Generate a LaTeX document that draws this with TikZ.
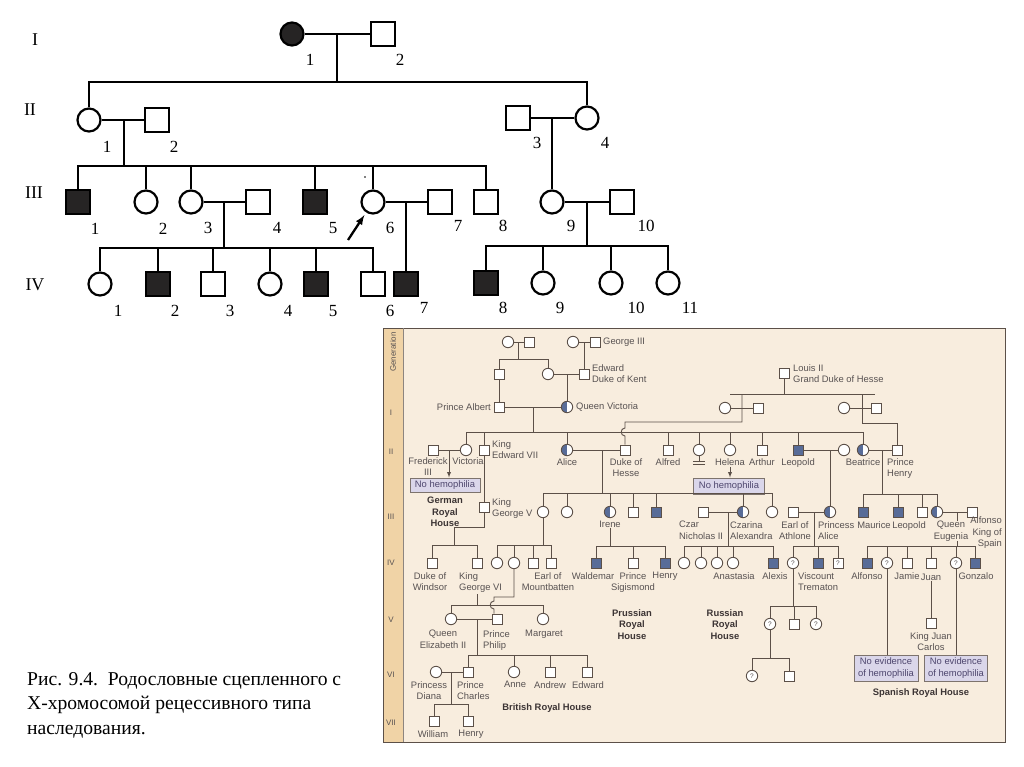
\documentclass[tikz,border=0pt]{standalone}
\usepackage{fontspec}
\setmainfont{Liberation Serif}
\newfontfamily\rfont{Liberation Sans}
\usepackage{tikz}
\usetikzlibrary{calc}
\usetikzlibrary{arrows}
\usetikzlibrary{positioning}

\definecolor{pdark}{RGB}{38,36,36}
\definecolor{panelbg}{RGB}{248,237,222}
\definecolor{genbar}{RGB}{240,211,166}
\definecolor{rline}{RGB}{92,80,72}
\definecolor{rtext}{RGB}{88,82,82}
\definecolor{rhtext}{RGB}{60,52,52}
\definecolor{rfill}{RGB}{88,108,152}
\definecolor{boxfill}{RGB}{218,214,234}
\definecolor{boxtext}{RGB}{78,70,110}

\tikzset{
 fem/.style={circle, draw=black, line width=2.2pt, minimum size=23pt, inner sep=0pt, fill=white},
 mal/.style={rectangle, draw=black, line width=2.2pt, minimum size=23.5pt, inner sep=0pt, fill=white},
 aff/.style={fill=pdark},
 lnk/.style={draw=black, line width=2.3pt},
 num/.style={font=\fontsize{17}{17}\selectfont, inner sep=0pt},
 gen/.style={font=\fontsize{18}{18}\selectfont, inner sep=0pt},
 rfem/.style={circle, draw=rline, line width=0.9pt, minimum size=11.4pt, inner sep=0pt, fill=white},
 rmal/.style={rectangle, draw=rline, line width=0.9pt, minimum size=9.9pt, inner sep=0pt, fill=white},
 raff/.style={fill=rfill},
 rcar/.style={path picture={\fill[rfill] (path picture bounding box.south west) rectangle (path picture bounding box.north);}},
 rq/.style={font=\rfont\fontsize{6.5}{6.5}\selectfont, text=rtext},
 rl/.style={draw=rline, line width=0.9pt},
 rtx/.style={font=\rfont\fontsize{9.4}{11.6}\selectfont, text=rtext, inner sep=0pt, align=center},
 rhouse/.style={font=\rfont\bfseries\fontsize{9.4}{11.6}\selectfont, text=rhtext, inner sep=0pt, align=center},
 nobox/.style={rectangle, draw=rline!80, line width=1pt, fill=boxfill, font=\rfont\fontsize{9.4}{11.6}\selectfont, text=boxtext, inner sep=0pt, align=center},
 rgen/.style={font=\rfont\fontsize{8}{8}\selectfont, text=rtext, inner sep=0pt}
}

\begin{document}
\begin{tikzpicture}[x=1pt, y=-1pt]
\useasboundingbox (0,0) rectangle (1024,767);
\fill[white] (0,0) rectangle (1024,767);

% ---------- upper pedigree ----------
\node [gen] (gl1) at (35,40) {I};
\node [gen] (gl2) at (30,110) {II};
\node [gen] (gl3) at (34,193) {III};
\node [gen] (gl4) at (35,285) {IV};

\node [fem, aff] (f11) at (292,34) {};
\node [mal] (m12) at (383,34) {};
\node [num] (n11) at (310,60) {1};
\node [num] (n12) at (400,60) {2};

\node [fem] (f21) at (89,120) {};
\node [mal] (m22) at (157,120) {};
\node [mal] (m23) at (518,118) {};
\node [fem] (f24) at (587,118) {};
\node [num] (n21) at (107,147) {1};
\node [num] (n22) at (174,147) {2};
\node [num] (n23) at (537,143) {3};
\node [num] (n24) at (605,143) {4};

\node [mal, aff] (m31) at (78,202) {};
\node [fem] (f32) at (146,202) {};
\node [fem] (f33) at (191,202) {};
\node [mal] (m34) at (258,202) {};
\node [mal, aff] (m35) at (315,202) {};
\node [fem] (f36) at (373,202) {};
\node [mal] (m37) at (440,202) {};
\node [mal] (m38) at (486,202) {};
\node [fem] (f39) at (552,202) {};
\node [mal] (m310) at (622,202) {};
\node [num] (n31) at (95,229) {1};
\node [num] (n32) at (163,229) {2};
\node [num] (n33) at (208,228) {3};
\node [num] (n34) at (277,228) {4};
\node [num] (n35) at (333,228) {5};
\node [num] (n36) at (390,228) {6};
\node [num] (n37) at (458,226) {7};
\node [num] (n38) at (503,226) {8};
\node [num] (n39) at (571,226) {9};
\node [num] (n310) at (646,226) {10};

\node [fem] (f41) at (100,284) {};
\node [mal, aff] (m42) at (158,284) {};
\node [mal] (m43) at (213,284) {};
\node [fem] (f44) at (270,284) {};
\node [mal, aff] (m45) at (316,284) {};
\node [mal] (m46) at (373,284) {};
\node [mal, aff] (m47) at (406,284) {};
\node [mal, aff] (m48) at (486,283) {};
\node [fem] (f49) at (543,283) {};
\node [fem] (f410) at (611,283) {};
\node [fem] (f411) at (668,283) {};
\node [num] (n41) at (118,311) {1};
\node [num] (n42) at (175,311) {2};
\node [num] (n43) at (230,311) {3};
\node [num] (n44) at (288,311) {4};
\node [num] (n45) at (333,311) {5};
\node [num] (n46) at (390,311) {6};
\node [num] (n47) at (424,308) {7};
\node [num] (n48) at (503,308) {8};
\node [num] (n49) at (560,308) {9};
\node [num] (n410) at (636,308) {10};
\node [num] (n411) at (690,308) {11};

\coordinate (j1) at (337,34);
\coordinate (s1) at (337,82);
\coordinate (j2) at (124,120);
\coordinate (s2) at (124,166);
\coordinate (j3) at (552,118);
\coordinate (j4) at (224,202);
\coordinate (s4) at (224,248);
\coordinate (j5) at (406,202);
\coordinate (j6) at (587,202);
\coordinate (s6) at (587,246);
\coordinate (pb) at (348,240);

\draw [lnk] (f11) -- (m12);
\draw [lnk] (j1) -- (s1);
\draw [lnk] (s1) -| (f21);
\draw [lnk] (s1) -| (f24);
\draw [lnk] (f21) -- (m22);
\draw [lnk] (j2) -- (s2);
\foreach \c in {m31,f32,f33,m35,f36,m38}
  \draw [lnk] (s2) -| (\c);
\draw [lnk] (m23) -- (f24);
\draw [lnk] (j3) -- (f39);
\draw [lnk] (f33) -- (m34);
\draw [lnk] (j4) -- (s4);
\foreach \c in {f41,m42,m43,f44,m45,m46}
  \draw [lnk] (s4) -| (\c);
\draw [lnk] (f36) -- (m37);
\draw [lnk] (j5) -- (m47);
\draw [lnk] (f39) -- (m310);
\draw [lnk] (j6) -- (s6);
\foreach \c in {m48,f49,f410,f411}
  \draw [lnk] (s6) -| (\c);
\draw [lnk, -latex, shorten >=3pt] (pb) -- (f36);
\fill (365,177) circle (0.9pt);

% ---------- royal pedigree panel ----------
\fill [panelbg] (383,328) rectangle (1005,742);
\fill [genbar] (383,328) rectangle (403,742);
\draw [rline, line width=1pt] (383,328) rectangle (1005,742);
\draw [rline!70, line width=0.8pt] (403,328) -- (403,742);

\node [rgen, rotate=90] (gtit) at (393,352) {Generation};
\node [rgen] (rg1) at (391,413) {I};
\node [rgen] (rg2) at (391,452) {II};
\node [rgen] (rg3) at (391,517) {III};
\node [rgen] (rg4) at (391,563) {IV};
\node [rgen] (rg5) at (391,620) {V};
\node [rgen] (rg6) at (391,675) {VI};
\node [rgen] (rg7) at (391,723) {VII};

% generation 0
\node [rfem] (gm1) at (508,342) {};
\node [rmal] (gf1) at (529,342) {};
\node [rfem] (gm2) at (573,342) {};
\node [rmal] (geo) at (595,342) {};
\node [rtx, anchor=west] (tgeo) at (603,342) {George III};
\node [rmal] (alfa) at (499,374) {};
\node [rfem] (vmo) at (548,374) {};
\node [rmal] (edk) at (584,374) {};
\node [rtx, anchor=west, align=left] (tedk) at (592,373.5) {Edward\\Duke of Kent};
\node [rmal] (alb) at (499,407) {};
\node [rtx, anchor=east] (talb) at (491,407) {Prince Albert};
\node [rfem, rcar] (qv) at (567,407) {};
\node [rtx, anchor=west] (tqv) at (576,407) {Queen Victoria};

\coordinate (ja) at (518,342);
\coordinate (sa) at (518,359);
\coordinate (jb) at (584,342);
\coordinate (jc) at (567,374);
\coordinate (jd) at (533,407);
\coordinate (sd) at (533,432);
\draw [rl] (gm1) -- (gf1);
\draw [rl] (ja) -- (sa);
\draw [rl] (sa) -| (alfa);
\draw [rl] (sa) -| (vmo);
\draw [rl] (gm2) -- (geo);
\draw [rl] (jb) -- (edk);
\draw [rl] (vmo) -- (edk);
\draw [rl] (jc) -- (qv);
\draw [rl] (alfa) -- (alb);
\draw [rl] (alb) -- (qv);
\draw [rl] (jd) -- (sd);

% Louis II
\node [rmal] (lou) at (784,373) {};
\node [rtx, anchor=west, align=left] (tlou) at (793,373.5) {Louis II\\Grand Duke of Hesse};
\node [rfem] (lw1) at (725,408) {};
\node [rmal] (lh1) at (758,408) {};
\node [rfem] (lw2) at (844,408) {};
\node [rmal] (lh2) at (876,408) {};

% generation II
\node [rmal] (fre) at (433,450) {};
\node [rfem] (vic) at (466,450) {};
\node [rmal] (ed7) at (484,450) {};
\node [rfem, rcar] (ali) at (567,450) {};
\node [rmal] (hes) at (625,450) {};
\node [rmal] (alf) at (668,450) {};
\node [rfem] (dau) at (699,450) {};
\node [rfem] (hel) at (730,450) {};
\node [rmal] (art) at (762,450) {};
\node [rmal, raff] (leo) at (798,450) {};
\node [rfem] (leow) at (844,450) {};
\node [rfem, rcar] (bea) at (863,450) {};
\node [rmal] (hen) at (897,450) {};

\node [rtx, anchor=north] (tfre) at (428,457) {Frederick\\III};
\node [rtx, anchor=north] (tvic) at (468,457) {Victoria};
\node [rtx, anchor=north west, align=left] (ted7) at (492,440) {King\\Edward VII};
\node [rtx, anchor=north] (tali) at (567,458) {Alice};
\node [rtx, anchor=north] (thes) at (626,458) {Duke of\\Hesse};
\node [rtx, anchor=north] (talf) at (668,458) {Alfred};
\node [rtx, anchor=north] (thel) at (730,458) {Helena};
\node [rtx, anchor=north] (tart) at (762,458) {Arthur};
\node [rtx, anchor=north] (tleo) at (798,458) {Leopold};
\node [rtx, anchor=north] (tbea) at (863,458) {Beatrice};
\node [rtx, anchor=north west, align=left] (then) at (887,458) {Prince\\Henry};

\node [nobox, minimum width=70pt, minimum height=14pt] (nh1) at (445,485) {No hemophilia};
\node [nobox, minimum width=71pt, minimum height=16pt] (nh2) at (729,486) {No hemophilia};

\coordinate (sl) at (784,394);
\coordinate (sl0) at (730,394);
\coordinate (sl1) at (875,394);
\coordinate (hl0) at (742,394);
\coordinate (hl1) at (742,422);
\coordinate (hh0) at (625,422);
\coordinate (hop0) at (625,428);
\coordinate (hop1) at (625,436);
\coordinate (hr0) at (862,394);
\coordinate (hr1) at (862,423);
\draw [rl] (lou) -- (sl);
\draw [rl] (sl0) -- (sl1);
\draw [rl] (lw1) -- (lh1);
\draw [rl] (lw2) -- (lh2);
\draw [rl] (hl0) -- (hl1) -- (hh0) -- (hop0) .. controls +(-5,0) and +(-5,0) .. (hop1) -- (hes);
\draw [rl] (hr0) -- (hr1) -| (hen);

\foreach \c in {vic,ed7,ali,alf,dau,hel,art,leo,bea}
  \draw [rl] (sd) -| (\c);

\coordinate (jfr) at (449,450);
\coordinate (dau0) at (699,461);
\draw [rl] (fre) -- (vic);
\draw [rl, -latex] (jfr) -- (jfr |- nh1.north);
\draw [rl, -latex, shorten <=2pt] (thel.south) -- (thel.south |- nh2.north);
\draw [rl] (dau) -- (dau0);
\draw [rl] ($(dau0)+(-6,0)$) -- ($(dau0)+(6,0)$);
\draw [rl] ($(dau0)+(-6,3)$) -- ($(dau0)+(6,3)$);

% generation III
\node [rmal] (ge5) at (484,507) {};
\node [rtx, anchor=north west, align=left] (tge5) at (492,498) {King\\George V};
\node [rfem] (vb) at (543,512) {};
\node [rfem] (ela) at (567,512) {};
\node [rfem, rcar] (ire) at (610,512) {};
\node [rmal] (ern) at (633,512) {};
\node [rmal, raff] (fri) at (656,512) {};
\node [rmal] (nic) at (703,512) {};
\node [rfem, rcar] (alx) at (743,512) {};
\node [rfem] (ala) at (772,512) {};
\node [rmal] (ath) at (793,512) {};
\node [rfem, rcar] (pal) at (830,512) {};
\node [rmal, raff] (mau) at (863,512) {};
\node [rmal, raff] (leo2) at (898,512) {};
\node [rmal] (don) at (922,512) {};
\node [rfem, rcar] (eug) at (937,512) {};
\node [rmal] (alk) at (972,512) {};

\coordinate (jal) at (602,450);
\coordinate (sal) at (602,493);
\coordinate (jle) at (830,450);
\coordinate (jbe) at (882,450);
\coordinate (sbe) at (882,494);
\coordinate (jeu) at (957,512);
\coordinate (seu) at (957,546);
\draw [rl] (ed7) -- (ge5);
\draw [rl] (ali) -- (hes);
\draw [rl] (jal) -- (sal);
\foreach \c in {vb,ela,ire,ern,fri,alx,ala}
  \draw [rl] (sal) -| (\c);
\draw [rl] (leo) -- (leow);
\draw [rl] (jle) -- (pal);
\draw [rl] (bea) -- (hen);
\draw [rl] (jbe) -- (sbe);
\foreach \c in {mau,leo2,don,eug}
  \draw [rl] (sbe) -| (\c);
\draw [rl] (eug) -- (alk);
\draw [rl] (jeu) -- (seu);

\node [rtx, anchor=north] (tire) at (610,521) {Irene};
\node [rtx, anchor=north west, align=left] (tnic) at (679,521) {Czar\\Nicholas II};
\node [rtx, anchor=north west, align=left] (talx) at (730,521) {Czarina\\Alexandra};
\node [rtx, anchor=north] (tath) at (795,521) {Earl of\\Athlone};
\node [rtx, anchor=north west, align=left] (tpal) at (818,521) {Princess\\Alice};
\node [rtx, anchor=north] (tmau) at (874,521) {Maurice};
\node [rtx, anchor=north] (tleo2) at (909,521) {Leopold};
\node [rtx, anchor=north, fill=panelbg] (teug) at (951,521) {Queen\\Eugenia};
\node [rtx, anchor=north east, align=right] (talk) at (1002,516.5) {Alfonso\\King of\\Spain};

\node [rhouse, anchor=north] (hger) at (445,497) {German\\Royal\\House};

% generation IV
\node [rmal] (dwi) at (432,563) {};
\node [rmal] (gv6) at (477,563) {};
\node [rfem] (mb1) at (497,563) {};
\node [rfem] (mb2) at (514,563) {};
\node [rmal] (mb3) at (533,563) {};
\node [rmal] (mb4) at (551,563) {};
\node [rmal, raff] (wal) at (596,563) {};
\node [rmal] (sig) at (633,563) {};
\node [rmal, raff] (hry) at (665,563) {};
\node [rfem] (od1) at (684,563) {};
\node [rfem] (od2) at (701,563) {};
\node [rfem] (od3) at (717,563) {};
\node [rfem] (ana) at (733,563) {};
\node [rmal, raff] (alz) at (773,563) {};
\node [rfem, rq] (rq1) at (793,563) {?};
\node [rmal, raff] (tre) at (818,563) {};
\node [rmal, rq] (rq2) at (838,563) {?};
\node [rmal, raff] (alf2) at (867,563) {};
\node [rfem, rq] (sq1) at (887,563) {?};
\node [rmal] (jam) at (907,563) {};
\node [rmal] (jua) at (931,563) {};
\node [rfem, rq] (sq2) at (956,563) {?};
\node [rmal, raff] (gon) at (975,563) {};

\coordinate (jg0) at (484,527);
\coordinate (jg1) at (454,527);
\coordinate (sg) at (454,545);
\coordinate (svb) at (543,545);
\coordinate (sir) at (610,546);
\coordinate (jni) at (728,512);
\coordinate (sni) at (728,546);
\coordinate (jat) at (814,512);
\coordinate (sat) at (814,546);
\draw [rl] (ge5) -- (jg0) -- (jg1) -- (sg);
\draw [rl] (sg) -| (dwi);
\draw [rl] (sg) -| (gv6);
\draw [rl] (vb) -- (svb);
\foreach \c in {mb1,mb2,mb3,mb4}
  \draw [rl] (svb) -| (\c);
\draw [rl] (tire) -- (sir);
\foreach \c in {wal,sig,hry}
  \draw [rl] (sir) -| (\c);
\draw [rl] (nic) -- (alx);
\draw [rl] (jni) -- (sni);
\foreach \c in {od1,od2,od3,ana,alz}
  \draw [rl] (sni) -| (\c);
\draw [rl] (ath) -- (pal);
\draw [rl] (jat) -- (sat);
\foreach \c in {rq1,tre,rq2}
  \draw [rl] (sat) -| (\c);
\foreach \c in {alf2,sq1,jam,jua,sq2,gon}
  \draw [rl] (seu) -| (\c);

\node [rtx, anchor=north] (tdwi) at (430,572) {Duke of\\Windsor};
\node [rtx, anchor=north west, align=left] (tgv6) at (459,572) {King\\George VI};
\node [rtx, anchor=north] (tmb) at (548,572) {Earl of\\Mountbatten};
\node [rtx, anchor=north] (twal) at (593,572) {Waldemar};
\node [rtx, anchor=north] (tsig) at (633,572) {Prince\\Sigismond};
\node [rtx, anchor=north] (thry) at (665,572) {Henry};
\node [rtx, anchor=north] (tana) at (734,572) {Anastasia};
\node [rtx, anchor=north] (talz) at (775,572) {Alexis};
\node [rtx, anchor=north west, align=left] (ttre) at (798,572) {Viscount\\Trematon};
\node [rtx, anchor=north] (talf2) at (867,572) {Alfonso};
\node [rtx, anchor=north] (tjam) at (907,572) {Jamie};
\node [rtx, anchor=north] (tjua) at (931,574) {Juan};
\node [rtx, anchor=north] (tgon) at (976,572) {Gonzalo};

% Spanish line
\node [rmal] (jca) at (931,623) {};
\node [rtx, anchor=north] (tjca) at (931,632) {King Juan\\Carlos};
\node [nobox, minimum width=64pt, minimum height=26pt] (ne1) at (886,668) {No evidence\\of hemophilia};
\node [nobox, minimum width=63pt, minimum height=26pt] (ne2) at (956,668) {No evidence\\of hemophilia};
\draw [rl] (tjua) -- (jca);
\draw [rl] (sq1) -- (sq1 |- ne1.north);
\draw [rl] (sq2) -- (sq2 |- ne2.north);
\node [rhouse] (hspa) at (921,693) {Spanish Royal House};

% Russian line
\node [rfem, rq] (rq3) at (770,624) {?};
\node [rmal] (rs1) at (794,624) {};
\node [rfem, rq] (rq4) at (816,624) {?};
\node [rfem, rq] (rq5) at (752,676) {?};
\node [rmal] (rs2) at (789,676) {};
\coordinate (srq) at (793,606);
\coordinate (srq2) at (770,658);
\draw [rl] (rq1) -- (srq);
\foreach \c in {rq3,rs1,rq4}
  \draw [rl] (srq) -| (\c);
\draw [rl] (rq3) -- (srq2);
\draw [rl] (srq2) -| (rq5);
\draw [rl] (srq2) -| (rs2);
\node [rhouse, anchor=north] (hrus) at (725,609) {Russian\\Royal\\House};
\node [rhouse, anchor=north] (hpru) at (632,609) {Prussian\\Royal\\House};

% British line
\node [rfem] (qe2) at (451,619) {};
\node [rmal] (phi) at (497,619) {};
\node [rfem] (mar) at (543,619) {};
\node [rtx, anchor=north] (tqe2) at (443,630) {Queen\\Elizabeth II};
\node [rtx, anchor=north west, align=left] (tphi) at (483,630) {Prince\\Philip};
\node [rtx, anchor=north] (tmar) at (544,630) {Margaret};
\coordinate (jv) at (477,594);
\coordinate (sv) at (477,605);
\coordinate (ph0) at (514,597);
\coordinate (ph1) at (494,597);
\coordinate (ph2) at (494,601);
\coordinate (ph3) at (494,609);
\draw [rl] (jv) -- (sv);
\draw [rl] (sv) -| (qe2);
\draw [rl] (sv) -| (mar);
\draw [rl] (mb2) -- (ph0) -- (ph1) -- (ph2) .. controls +(-5,0) and +(-5,0) .. (ph3) -- (ph3 |- phi.north);

\node [rfem] (dia) at (436,672) {};
\node [rmal] (cha) at (468,672) {};
\node [rfem] (ann) at (514,672) {};
\node [rmal] (andr) at (550,672) {};
\node [rmal] (edd) at (587,672) {};
\node [rtx, anchor=north] (tdia) at (429,681) {Princess\\Diana};
\node [rtx, anchor=north west, align=left] (tcha) at (457,681) {Prince\\Charles};
\node [rtx, anchor=north] (tann) at (515,681) {Anne};
\node [rtx, anchor=north] (tandr) at (550,681) {Andrew};
\node [rtx, anchor=north] (tedd) at (588,681) {Edward};
\coordinate (jq) at (477,619);
\coordinate (sq) at (477,655);
\draw [rl] (qe2) -- (phi);
\draw [rl] (jq) -- (sq);
\foreach \c in {cha,ann,andr,edd}
  \draw [rl] (sq) -| (\c);

\node [rmal] (wil) at (434,721) {};
\node [rmal] (har) at (468,721) {};
\node [rtx, anchor=north] (twil) at (433,730) {William};
\node [rtx, anchor=north] (thar) at (471,730) {Henry};
\coordinate (jdi) at (451,672);
\coordinate (sdi) at (451,704);
\draw [rl] (dia) -- (cha);
\draw [rl] (jdi) -- (sdi);
\draw [rl] (sdi) -| (wil);
\draw [rl] (sdi) -| (har);
\node [rhouse] (hbri) at (547,708) {British Royal House};

% caption
\node [anchor=north west, align=left, inner sep=0pt, font=\fontsize{19.6}{24.5}\selectfont] (cap) at (27,672)
  {Рис. 9.4.~~Родословные сцепленного с\\Х-хромосомой рецессивного типа\\наследования.};
\end{tikzpicture}
\end{document}
